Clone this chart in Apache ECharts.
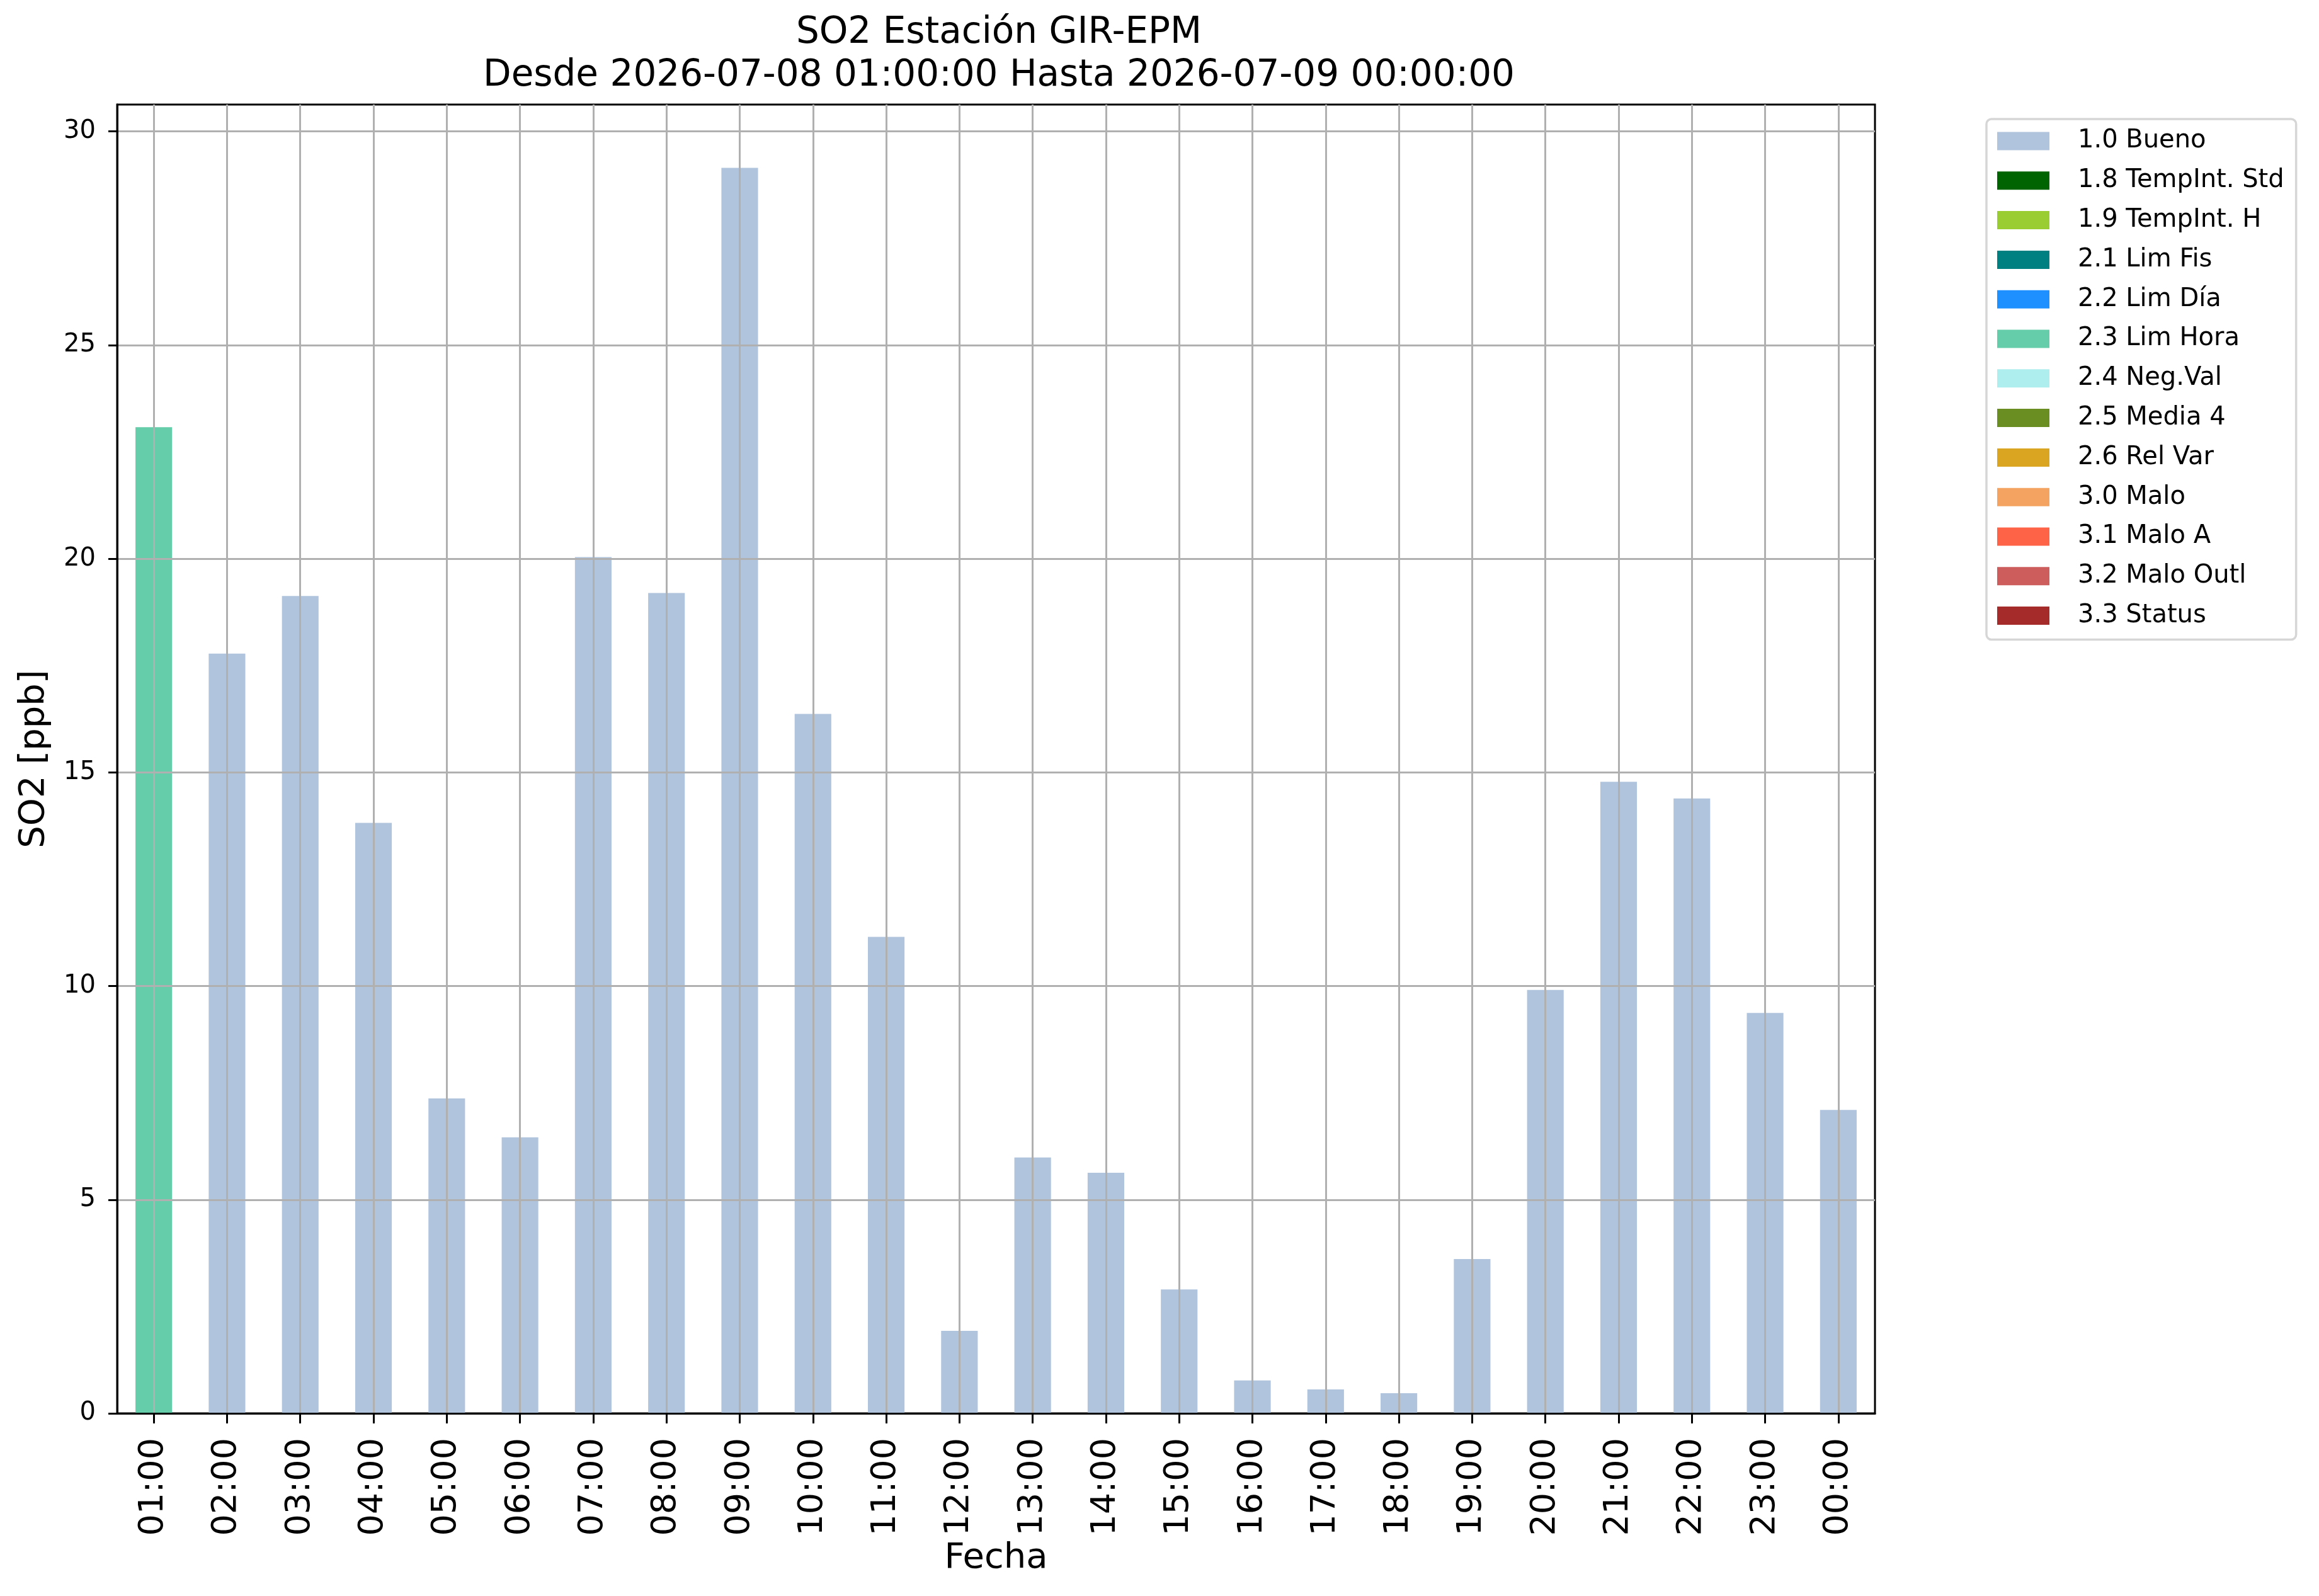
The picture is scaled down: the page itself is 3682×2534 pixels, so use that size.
<!DOCTYPE html>
<html>
<head>
<meta charset="utf-8">
<script src="https://cdn.jsdelivr.net/npm/echarts@6/dist/echarts.min.js"></script>
<style>
html, body { margin: 0; padding: 0; background: #ffffff; }
#chart { width: 3682px; height: 2534px; }
</style>
</head>
<body>
<div id="chart"></div>
<script>
// ---- data ----
const hours = ['01:00','02:00','03:00','04:00','05:00','06:00','07:00','08:00','09:00','10:00','11:00','12:00',
               '13:00','14:00','15:00','16:00','17:00','18:00','19:00','20:00','21:00','22:00','23:00','00:00'];
const so2Values = [23.08, 17.78, 19.13, 13.82, 7.37, 6.46, 20.04, 19.2, 29.15, 16.37, 11.15, 1.93,
                   5.99, 5.63, 2.90, 0.77, 0.56, 0.47, 3.61, 9.91, 14.78, 14.39, 9.37, 7.10];
const flagCodes = ['2.3 Lim Hora', '1.0 Bueno', '1.0 Bueno', '1.0 Bueno', '1.0 Bueno', '1.0 Bueno', '1.0 Bueno', '1.0 Bueno',
                   '1.0 Bueno', '1.0 Bueno', '1.0 Bueno', '1.0 Bueno', '1.0 Bueno', '1.0 Bueno', '1.0 Bueno', '1.0 Bueno',
                   '1.0 Bueno', '1.0 Bueno', '1.0 Bueno', '1.0 Bueno', '1.0 Bueno', '1.0 Bueno', '1.0 Bueno', '1.0 Bueno'];
const flagNames = ['1.0 Bueno', '1.8 TempInt. Std', '1.9 TempInt. H', '2.1 Lim Fis', '2.2 Lim Día', '2.3 Lim Hora',
                   '2.4 Neg.Val', '2.5 Media 4', '2.6 Rel Var', '3.0 Malo', '3.1 Malo A', '3.2 Malo Outl', '3.3 Status'];
const flagColors = ['#b0c4de', '#006400', '#9acd32', '#008080', '#1e90ff', '#66cdaa',
                    '#afeeee', '#6b8e23', '#daa520', '#f4a460', '#ff6347', '#cd5c5c', '#a52a2a'];
const yTicks = [0, 5, 10, 15, 20, 25, 30];

const FONT = 'DejaVu Sans';
const titleText = 'SO2 Estación GIR-EPM\nDesde 2026-07-08 01:00:00 Hasta 2026-07-09 00:00:00';
const plotCenter = 1581;

const series = flagNames.map((name, k) => ({
  name: name,
  type: 'bar',
  stack: 'so2',
  barWidth: '50%',
  itemStyle: { color: flagColors[k] },
  emphasis: { disabled: true },
  data: so2Values.map((v, i) => (flagCodes[i] === name ? v : null))
}));

const chart = echarts.init(document.getElementById('chart'), null, { renderer: 'canvas' });
chart.setOption({
  animation: false,
  backgroundColor: '#ffffff',
  textStyle: { fontFamily: FONT },
  title: {
    text: titleText,
    left: plotCenter,
    top: 14,
    textAlign: 'center',
    textStyle: { fontFamily: FONT, fontSize: 58, fontWeight: 'normal', color: '#000', lineHeight: 68 }
  },
  legend: {
    orient: 'vertical',
    left: 3154,
    top: 189,
    padding: [15, 19, 18, 17],
    itemWidth: 83,
    itemHeight: 29,
    itemGap: 22.8,
    icon: 'rect',
    borderColor: '#d6d6d6',
    borderWidth: 3.5,
    borderRadius: 8,
    backgroundColor: '#ffffff',
    selectedMode: false,
    textStyle: { fontFamily: FONT, fontSize: 40, color: '#000', lineHeight: 40, padding: [0, 0, 0, 40] },
    data: flagNames
  },
  grid: {
    left: 186, right: 705, top: 166, bottom: 290,
    show: true, borderColor: '#000', borderWidth: 3, backgroundColor: 'transparent'
  },
  xAxis: {
    type: 'category',
    data: hours,
    z: 5,
    name: 'Fecha',
    nameLocation: 'middle',
    nameGap: 200,
    nameTextStyle: { fontFamily: FONT, fontSize: 56, color: '#000' },
    axisLine: { show: true, lineStyle: { color: '#000', width: 3 } },
    axisTick: { show: true, alignWithLabel: true, length: 16, lineStyle: { color: '#000', width: 3 } },
    axisLabel: { rotate: 90, fontFamily: FONT, fontSize: 54, color: '#000', margin: 39, interval: 0 },
    splitLine: { show: true, alignWithLabel: true, interval: 0, lineStyle: { color: '#b0b0b0', width: 3 } }
  },
  yAxis: {
    type: 'value',
    min: 0,
    max: 30.63,
    interval: 5,
    z: 5,
    name: 'SO2 [ppb]',
    nameLocation: 'middle',
    nameGap: 104,
    nameTextStyle: { fontFamily: FONT, fontSize: 56, color: '#000' },
    axisLine: { show: true, lineStyle: { color: '#000', width: 3 } },
    axisTick: { show: true, length: 14, customValues: yTicks, lineStyle: { color: '#000', width: 3 } },
    axisLabel: { fontFamily: FONT, fontSize: 40, color: '#000', margin: 34, customValues: yTicks },
    splitLine: { show: true, lineStyle: { color: '#b0b0b0', width: 3 } }
  },
  series: series
});
</script>
</body>
</html>
